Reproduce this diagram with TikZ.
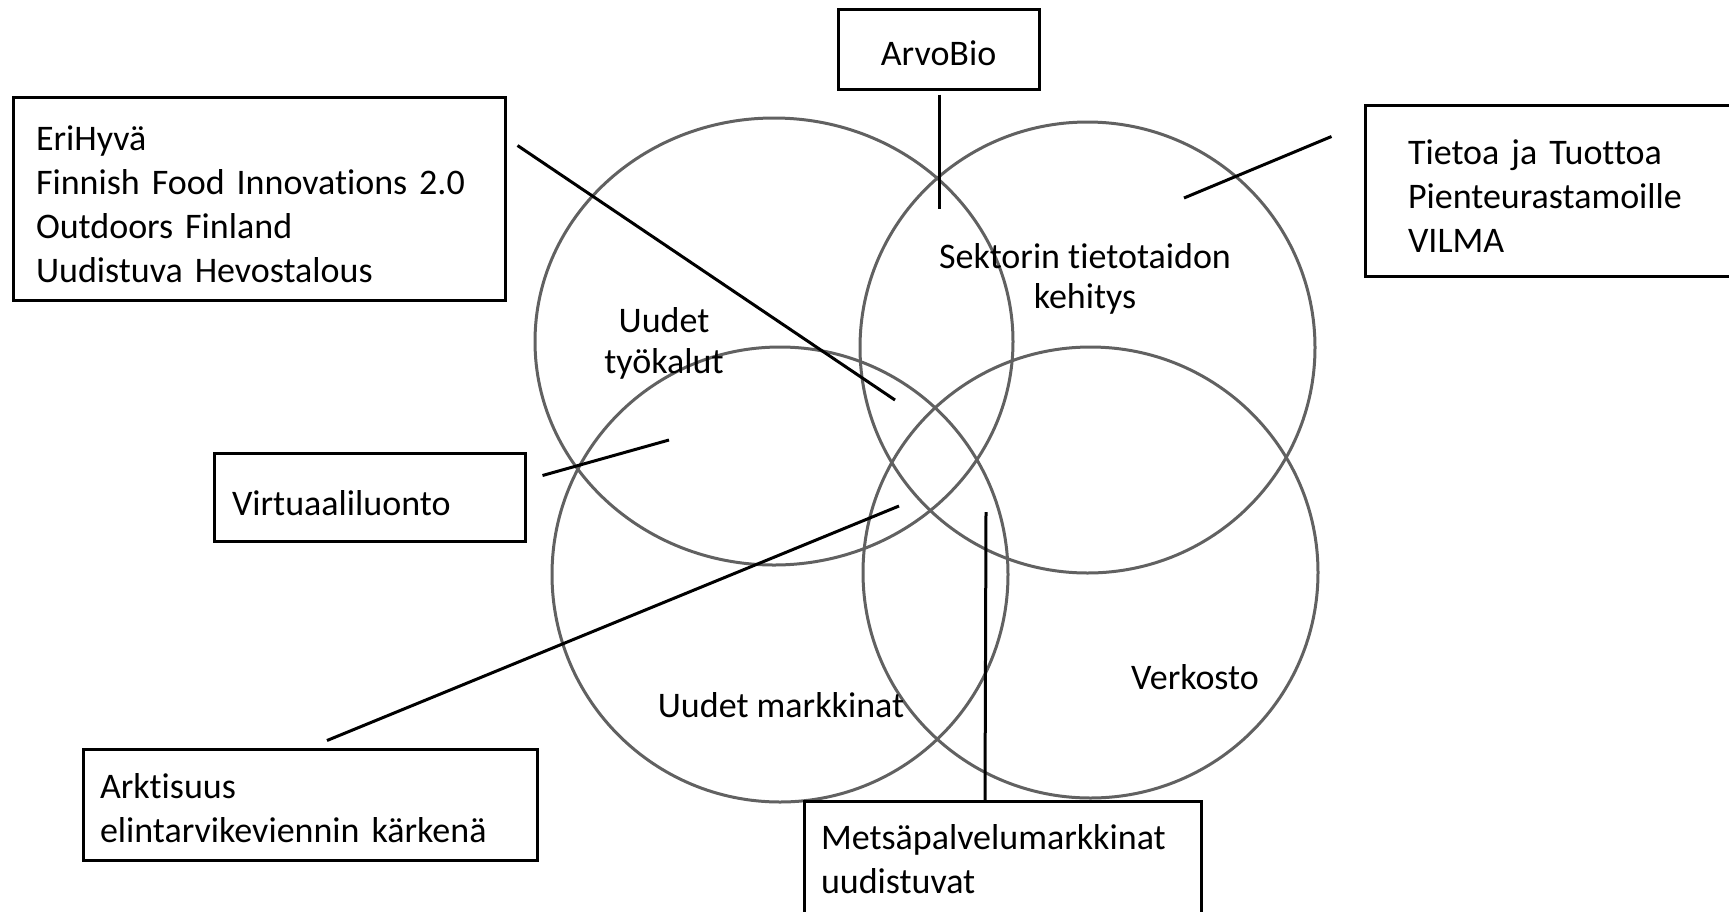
\documentclass[tikz,border=0pt]{standalone}
\usepackage{fontspec}
\setmainfont{Carlito}[Ligatures={NoCommon}]

\begin{document}
\begin{tikzpicture}[x=1pt, y=-1pt,
    ring/.style={draw=black!62, line width=3pt},
    projbox/.style={draw=black, line width=3pt, align=left, inner ysep=0pt,
      font=\fontsize{36}{44}\selectfont},
    area/.style={align=center, inner sep=0pt, font=\fontsize{36}{40.5}\selectfont},
    link/.style={black, line width=3pt}]
  \useasboundingbox (0,0) rectangle (1729,911);
  \clip (0,0) rectangle (1729,911);

  \draw [ring] (774,341.5) ellipse [x radius=239, y radius=223.5]; % tools
  \draw [ring] (1087.5,347.5) ellipse [x radius=227.5, y radius=225.5]; % know-how
  \draw [ring] (780,574.5) ellipse [x radius=228, y radius=227.5]; % markets
  \draw [ring] (1090.5,572.5) ellipse [x radius=227.5, y radius=225.5]; % network

  \node [area] (tools) at (664,343.5) {Uudet\\työkalut};
  \node [area] (knowhow) at (1085,279) {Sektorin tietotaidon\\kehitys};
  \node [area, anchor=base] (markets) at (781,717) {Uudet markkinat};
  \node [area, anchor=base] (network) at (1195,689) {Verkosto};

  \node [projbox, align=center, text height=34pt, minimum width=201pt, minimum height=80pt] (arvobio) at (938.5,49) {ArvoBio}; % top box
  \node [projbox, text height=37pt, text width=446pt, inner xsep=23pt, minimum height=203pt] (erihyva) at (259,198.5)
    {EriHyvä\\Finnish Food Innovations 2.0\\Outdoors Finland\\Uudistuva Hevostalous};
  \node [projbox, text height=35pt, text width=329pt, inner xsep=43pt, minimum height=171pt] (tietoa) at (1572.5,190.5)
    {Tietoa ja Tuottoa\\Pienteurastamoille\\VILMA};
  \node [projbox, text height=37pt, text width=275pt, inner xsep=18pt, minimum height=88pt] (virtuaali) at (369.5,497)
    {Virtuaaliluonto};
  \node [projbox, text height=33pt, text width=420pt, inner xsep=17pt, minimum height=111pt] (arktisuus) at (310,804.5)
    {Arktisuus\\elintarvikeviennin kärkenä};
  \node [projbox, text width=363pt, inner xsep=17pt, minimum height=116pt] (metsa) at (1002.5,859)
    {Metsäpalvelumarkkinat\\uudistuvat};

  \coordinate (arvobioend) at (939,209);
  \coordinate (erihyvaend) at (895,400);
  \coordinate (tietoaend) at (1184,198);
  \coordinate (virtuaaliend) at (669,440);
  \coordinate (arktisuusend) at (899,506);
  \coordinate (metsaend) at (986,512);

  \draw [link] ([shift={(0.5,4)}]arvobio.south) -- (arvobioend);
  \draw [link] ([shift={(11,50)}]erihyva.north east) -- (erihyvaend);
  \draw [link] ([shift={(-32,33)}]tietoa.north west) -- (tietoaend);
  \draw [link] ([shift={(16,24)}]virtuaali.north east) -- (virtuaaliend);
  \draw [link] ([shift={(17,-7)}]arktisuus.north) -- (arktisuusend);
  \draw [link] ([shift={(-17.5,2)}]metsa.north) -- (metsaend);
\end{tikzpicture}
\end{document}
